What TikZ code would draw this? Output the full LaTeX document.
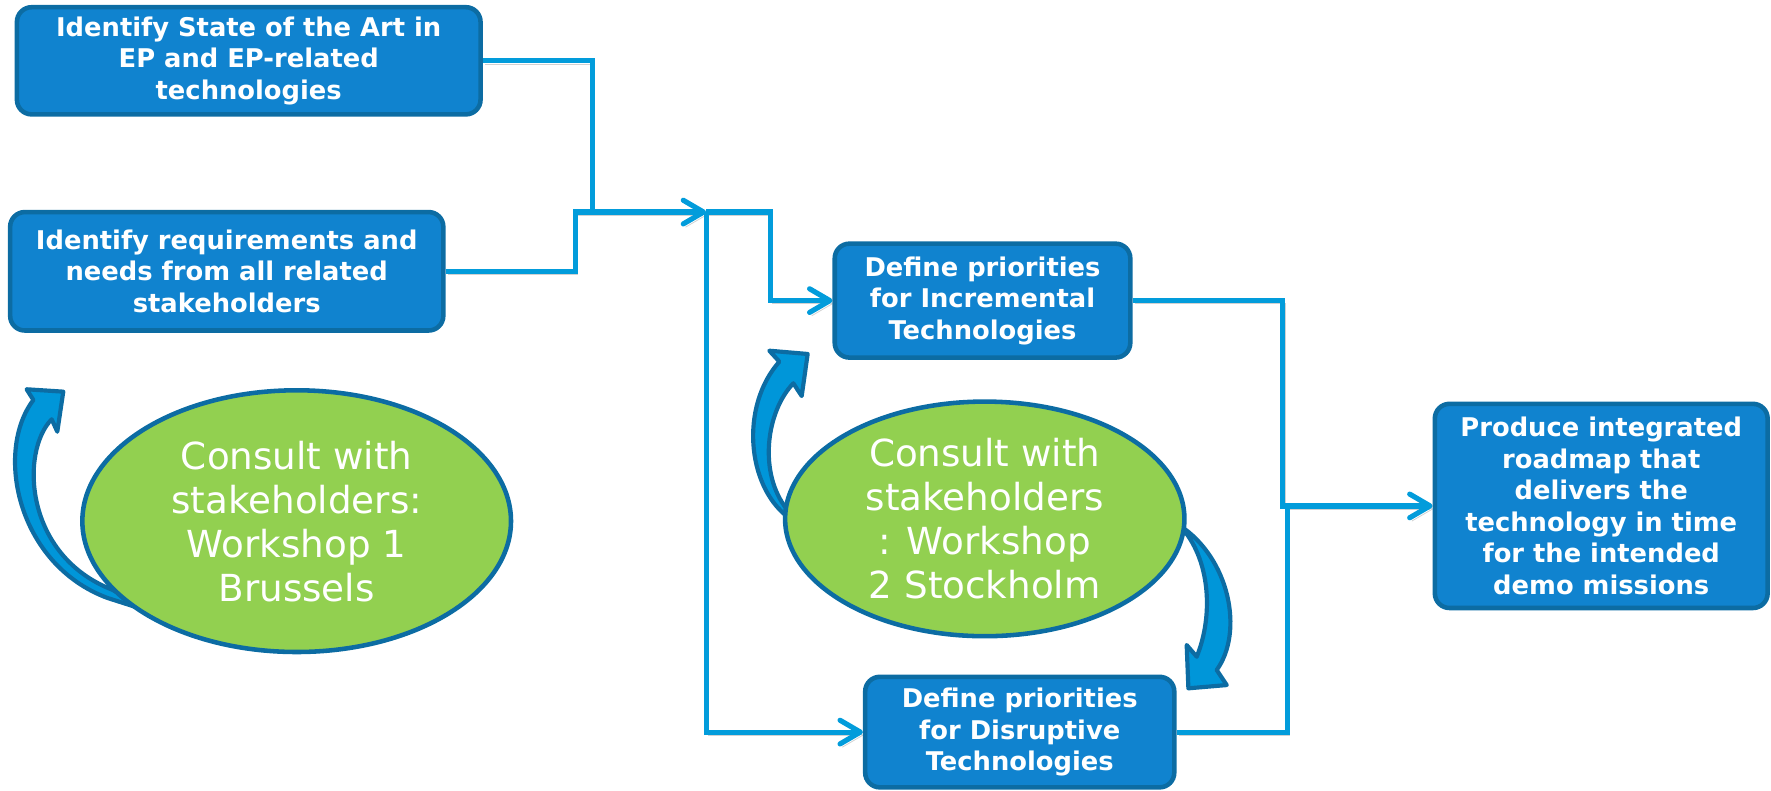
\documentclass[tikz,border=0pt]{standalone}
\usepackage{fontspec}
\setmainfont{DejaVu Sans}
\usepackage{tikz}
\usetikzlibrary{positioning}
\usetikzlibrary{arrows.meta}
\usetikzlibrary{shapes.geometric}
\pgfdeclarelayer{nodelayer}
\pgfdeclarelayer{edgelayer}
\pgfsetlayers{edgelayer,nodelayer,main}
\definecolor{boxblue}{HTML}{1083CF}
\definecolor{boxline}{HTML}{0C6CA3}
\definecolor{linkblue}{HTML}{029CDB}
\definecolor{leafgreen}{HTML}{92D050}
\definecolor{bendblue}{HTML}{0096D9}
\tikzset{
    none/.style = {inner sep=0pt},
    stepbox/.style = {draw=boxline, fill=boxblue, line width=2.3pt, rounded corners=0.26cm,
        text=white, font=\bfseries\fontsize{13}{15.9}\selectfont, align=center, inner sep=0pt},
    consult/.style = {ellipse, draw=boxline, fill=leafgreen, line width=2.3pt,
        text=white, font=\fontsize{18.8}{22.2}\selectfont, align=center, inner sep=0pt},
    link/.style = {draw=linkblue, line width=2.6pt,
        preaction={draw=black!18, transform canvas={shift={(1.2pt,-1.6pt)}}}},
    tip/.style = {-{Straight Barb[length=3.6mm, width=4.2mm, round]}},
    bendarrow/.style = {draw=boxline, fill=bendblue, line width=2.1pt, line join=round}
}

\begin{document}
\begin{tikzpicture}
  \useasboundingbox (0, 0) rectangle (31.4, -14.024);
  \begin{pgfonlayer}{nodelayer}
    \node [style=stepbox, minimum width=8.22cm, minimum height=1.9cm] (0) at (4.41, -1.078) {Identify State of the Art in\\EP and EP-related\\technologies};
    \node [style=stepbox, minimum width=7.68cm, minimum height=2.1cm] (1) at (4.02, -4.81) {Identify requirements and\\needs from all related\\stakeholders};
    \node [style=stepbox, minimum width=5.24cm, minimum height=2.02cm] (2) at (17.42, -5.33) {Define priorities\\for Incremental\\Technologies};
    \node [style=stepbox, minimum width=5.48cm, minimum height=1.96cm] (3) at (18.08, -12.98) {Define priorities\\for Disruptive\\Technologies};
    \node [style=stepbox, minimum width=5.9cm, minimum height=3.62cm] (4) at (28.39, -8.97) {Produce integrated\\roadmap that\\delivers the\\technology in time\\for the intended\\demo missions};
    \node [style=consult, minimum width=7.6cm, minimum height=4.64cm] (5) at (5.26, -9.24) {Consult with\\stakeholders:\\Workshop 1\\Brussels};
    \node [style=consult, minimum width=7.08cm, minimum height=4.16cm] (6) at (17.46, -9.2) {Consult with\\stakeholders\\: Workshop\\2 Stockholm};
    \node [style=none] (7) at (10.5, -3.76) {};
    \node [style=none] (8) at (10.2, -3.76) {};
    \node [style=none] (9) at (12.52, -3.76) {};
    \node [style=none] (10) at (13.66, -3.76) {};
    \node [style=none] (11) at (22.74, -8.97) {};
    \node [style=none] (12) at (22.82, -8.97) {};
  \end{pgfonlayer}
  \begin{pgfonlayer}{edgelayer}
    \draw [style=link] (0.east) -| (7.center);
    \draw [style=link, style=tip] (1.east) -| (8.center) to (9.center);
    \draw [style=link, style=tip] (9.center) |- (3.west);
    \draw [style=link, style=tip] (9.center) to (10.center) |- (2.west);
    \draw [style=link, style=tip] (2.east) -| (11.center) to (4.west);
    \draw [style=link] (3.east) -| (12.center);
    % curved arrows behind the workshops
    \filldraw [style=bendarrow] (2.4, -10.76) -- (1.9, -10.6)
      .. controls (0.3, -10.0) and (-0.1, -8.0) .. (0.592, -7.092)
      -- (0.472, -6.902) -- (1.122, -6.944) -- (1.016, -7.654) -- (0.916, -7.434)
      .. controls (0.36, -8.0) and (0.42, -9.85) .. (2.0, -10.46)
      -- (2.4, -10.66) -- cycle;
    \filldraw [style=bendarrow] (13.96, -9.16)
      .. controls (13.24, -8.6) and (13.12, -7.2) .. (13.818, -6.412)
      -- (13.64, -6.218) -- (14.32, -6.276) -- (14.214, -7.022) -- (14.066, -6.796)
      .. controls (13.58, -7.3) and (13.44, -8.4) .. (13.96, -9.04) -- cycle;
    \filldraw [style=bendarrow] (20.92, -9.32)
      .. controls (21.8, -9.9) and (22.06, -11.2) .. (21.572, -11.88)
      -- (21.75, -12.146) -- (21.07, -12.204) -- (21.04, -11.436) -- (21.218, -11.644)
      .. controls (21.52, -10.9) and (21.46, -9.9) .. (20.92, -9.32) -- cycle;
  \end{pgfonlayer}
\end{tikzpicture}
\end{document}
